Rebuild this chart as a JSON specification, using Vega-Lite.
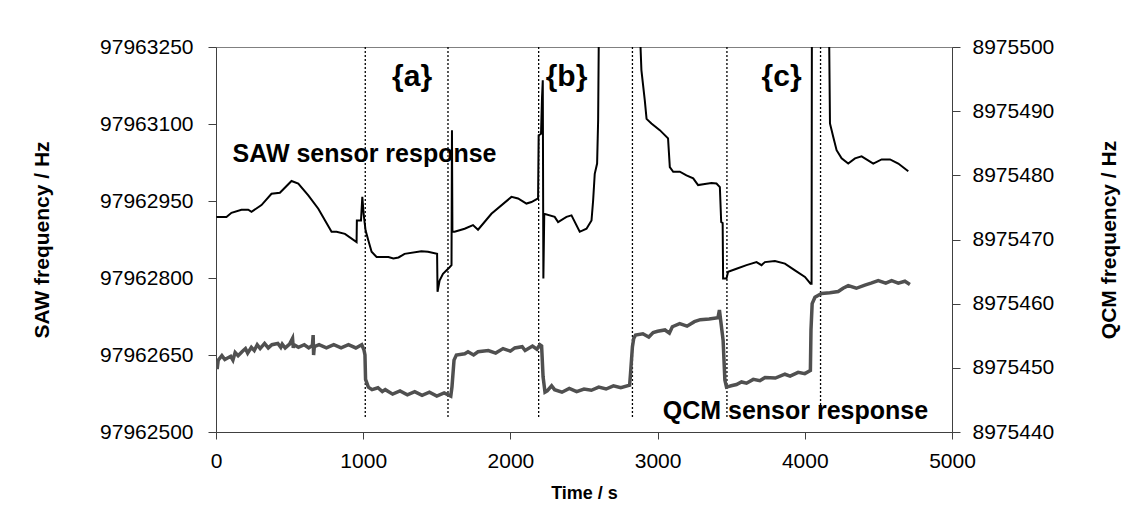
{
  "$schema": "https://vega.github.io/schema/vega-lite/v6.json",
  "autosize": {"type": "none"},
  "padding": {"left": 216, "top": 47, "right": 176, "bottom": 92},
  "width": 736,
  "height": 385,
  "background": "white",
  "config": {
    "view": {"stroke": "#808080", "strokeWidth": 1},
    "font": "Liberation Sans",
    "axis": {
      "grid": false,
      "domainColor": "#404040",
      "tickColor": "#404040",
      "labelColor": "black",
      "titleColor": "black",
      "labelFont": "Liberation Sans",
      "titleFont": "Liberation Sans",
      "labelFontSize": 21,
      "titleFontWeight": "bold",
      "labelOverlap": false,
      "labelBound": false,
      "labelFlush": false,
      "tickSize": 8
    }
  },
  "datasets": {
    "saw": [
      {"t": 3, "v": 97962919}, {"t": 71, "v": 97962919}, {"t": 105, "v": 97962927}, {"t": 173, "v": 97962933},
      {"t": 219, "v": 97962933}, {"t": 241, "v": 97962929}, {"t": 309, "v": 97962942}, {"t": 377, "v": 97962964},
      {"t": 434, "v": 97962966}, {"t": 513, "v": 97962989}, {"t": 559, "v": 97962984}, {"t": 627, "v": 97962961},
      {"t": 695, "v": 97962935}, {"t": 785, "v": 97962890}, {"t": 819, "v": 97962890}, {"t": 876, "v": 97962886},
      {"t": 955, "v": 97962870}, {"t": 957, "v": 97962912}, {"t": 985, "v": 97962912}, {"t": 994, "v": 97962958},
      {"t": 1003, "v": 97962925}, {"t": 1016, "v": 97962893}, {"t": 1035, "v": 97962873}, {"t": 1057, "v": 97962851},
      {"t": 1091, "v": 97962841}, {"t": 1171, "v": 97962841}, {"t": 1205, "v": 97962838}, {"t": 1240, "v": 97962840},
      {"t": 1281, "v": 97962847}, {"t": 1395, "v": 97962852}, {"t": 1440, "v": 97962851}, {"t": 1502, "v": 97962847},
      {"t": 1505, "v": 97962773}, {"t": 1519, "v": 97962795}, {"t": 1542, "v": 97962808}, {"t": 1587, "v": 97962821},
      {"t": 1600, "v": 97962825}, {"t": 1603, "v": 97963088}, {"t": 1606, "v": 97962890}, {"t": 1621, "v": 97962890},
      {"t": 1689, "v": 97962896}, {"t": 1746, "v": 97962903}, {"t": 1780, "v": 97962894}, {"t": 1871, "v": 97962925},
      {"t": 2007, "v": 97962958}, {"t": 2052, "v": 97962955}, {"t": 2109, "v": 97962945}, {"t": 2143, "v": 97962948},
      {"t": 2188, "v": 97962955}, {"t": 2192, "v": 97963078}, {"t": 2208, "v": 97963081}, {"t": 2215, "v": 97963153},
      {"t": 2220, "v": 97963185}, {"t": 2224, "v": 97962799}, {"t": 2230, "v": 97962925}, {"t": 2301, "v": 97962919},
      {"t": 2324, "v": 97962909}, {"t": 2381, "v": 97962919}, {"t": 2415, "v": 97962922}, {"t": 2471, "v": 97962890},
      {"t": 2517, "v": 97962896}, {"t": 2551, "v": 97962912}, {"t": 2562, "v": 97962951}, {"t": 2573, "v": 97963003},
      {"t": 2589, "v": 97963023}, {"t": 2596, "v": 97963107}, {"t": 2600, "v": 97963250}, {"t": 2603, "v": 97963400},
      {"t": 2880, "v": 97963400}, {"t": 2884, "v": 97963250}, {"t": 2890, "v": 97963205}, {"t": 2913, "v": 97963146},
      {"t": 2925, "v": 97963110}, {"t": 2958, "v": 97963101}, {"t": 3015, "v": 97963088}, {"t": 3071, "v": 97963072},
      {"t": 3083, "v": 97963016}, {"t": 3106, "v": 97963007}, {"t": 3151, "v": 97963007}, {"t": 3196, "v": 97963000},
      {"t": 3242, "v": 97962994}, {"t": 3275, "v": 97962981}, {"t": 3321, "v": 97962983}, {"t": 3366, "v": 97962985},
      {"t": 3400, "v": 97962984}, {"t": 3423, "v": 97962977}, {"t": 3432, "v": 97962909}, {"t": 3442, "v": 97962907},
      {"t": 3445, "v": 97962799}, {"t": 3468, "v": 97962799}, {"t": 3479, "v": 97962812}, {"t": 3536, "v": 97962818},
      {"t": 3604, "v": 97962825}, {"t": 3672, "v": 97962831}, {"t": 3706, "v": 97962825}, {"t": 3729, "v": 97962831},
      {"t": 3797, "v": 97962833}, {"t": 3865, "v": 97962828}, {"t": 3933, "v": 97962815}, {"t": 4001, "v": 97962802},
      {"t": 4039, "v": 97962789}, {"t": 4046, "v": 97962789}, {"t": 4048, "v": 97963250}, {"t": 4050, "v": 97963400},
      {"t": 4160, "v": 97963400}, {"t": 4166, "v": 97963250}, {"t": 4171, "v": 97963101}, {"t": 4193, "v": 97963075},
      {"t": 4216, "v": 97963049}, {"t": 4250, "v": 97963033}, {"t": 4295, "v": 97963023}, {"t": 4341, "v": 97963033},
      {"t": 4386, "v": 97963037}, {"t": 4465, "v": 97963023}, {"t": 4522, "v": 97963031}, {"t": 4579, "v": 97963031},
      {"t": 4635, "v": 97963023}, {"t": 4703, "v": 97963008}
    ],
    "qcm": [
      {"t": 0, "q": 8975451.0}, {"t": 8, "q": 8975449.8}, {"t": 15, "q": 8975451.2}, {"t": 40, "q": 8975451.9}, {"t": 60, "q": 8975451.3},
      {"t": 100, "q": 8975451.8}, {"t": 115, "q": 8975451.2}, {"t": 130, "q": 8975452.4}, {"t": 150, "q": 8975451.9}, {"t": 180, "q": 8975452.6}, {"t": 200, "q": 8975453.0},
      {"t": 215, "q": 8975452.3}, {"t": 240, "q": 8975453.2}, {"t": 260, "q": 8975452.7}, {"t": 280, "q": 8975453.6}, {"t": 300, "q": 8975453.0}, {"t": 330, "q": 8975453.8},
      {"t": 355, "q": 8975453.1}, {"t": 380, "q": 8975453.6}, {"t": 420, "q": 8975453.8}, {"t": 440, "q": 8975453.2}, {"t": 450, "q": 8975453.7}, {"t": 470, "q": 8975453.1},
      {"t": 500, "q": 8975453.7}, {"t": 520, "q": 8975454.6}, {"t": 525, "q": 8975453.1}, {"t": 530, "q": 8975453.6},
      {"t": 560, "q": 8975453.2}, {"t": 600, "q": 8975453.6}, {"t": 630, "q": 8975453.1}, {"t": 655, "q": 8975453.5}, {"t": 660, "q": 8975455.1},
      {"t": 663, "q": 8975452.0}, {"t": 668, "q": 8975453.3}, {"t": 700, "q": 8975453.6}, {"t": 750, "q": 8975453.1},
      {"t": 800, "q": 8975453.6}, {"t": 850, "q": 8975453.1}, {"t": 900, "q": 8975453.6}, {"t": 950, "q": 8975453.1},
      {"t": 990, "q": 8975453.6}, {"t": 1005, "q": 8975452.8}, {"t": 1012, "q": 8975452.0}, {"t": 1016, "q": 8975448.2},
      {"t": 1035, "q": 8975447.0}, {"t": 1060, "q": 8975446.6}, {"t": 1100, "q": 8975446.9}, {"t": 1130, "q": 8975446.3}, {"t": 1150, "q": 8975446.6},
      {"t": 1200, "q": 8975445.9}, {"t": 1250, "q": 8975446.4}, {"t": 1300, "q": 8975445.8}, {"t": 1350, "q": 8975446.3},
      {"t": 1400, "q": 8975445.7}, {"t": 1450, "q": 8975446.2}, {"t": 1500, "q": 8975445.6}, {"t": 1550, "q": 8975446.1},
      {"t": 1595, "q": 8975445.6}, {"t": 1603, "q": 8975447.0}, {"t": 1617, "q": 8975451.2}, {"t": 1633, "q": 8975452.0},
      {"t": 1690, "q": 8975452.2}, {"t": 1712, "q": 8975452.5}, {"t": 1750, "q": 8975452.0}, {"t": 1780, "q": 8975452.5}, {"t": 1850, "q": 8975452.7},
      {"t": 1900, "q": 8975452.3}, {"t": 1950, "q": 8975453.0}, {"t": 2000, "q": 8975452.6}, {"t": 2030, "q": 8975453.1}, {"t": 2080, "q": 8975453.3},
      {"t": 2100, "q": 8975452.7}, {"t": 2150, "q": 8975453.4}, {"t": 2180, "q": 8975452.9}, {"t": 2200, "q": 8975453.6}, {"t": 2212, "q": 8975453.4},
      {"t": 2222, "q": 8975448.6}, {"t": 2235, "q": 8975446.2}, {"t": 2250, "q": 8975446.4}, {"t": 2280, "q": 8975447.2},
      {"t": 2300, "q": 8975446.6}, {"t": 2350, "q": 8975446.2}, {"t": 2400, "q": 8975446.8}, {"t": 2450, "q": 8975446.3},
      {"t": 2500, "q": 8975446.7}, {"t": 2550, "q": 8975446.5}, {"t": 2600, "q": 8975447.0}, {"t": 2650, "q": 8975446.7},
      {"t": 2700, "q": 8975447.2}, {"t": 2750, "q": 8975446.9}, {"t": 2810, "q": 8975447.3}, {"t": 2816, "q": 8975449.1},
      {"t": 2829, "q": 8975453.3}, {"t": 2838, "q": 8975454.6}, {"t": 2850, "q": 8975455.1}, {"t": 2900, "q": 8975455.3},
      {"t": 2940, "q": 8975454.8}, {"t": 2970, "q": 8975455.5}, {"t": 3000, "q": 8975455.7}, {"t": 3050, "q": 8975455.9}, {"t": 3080, "q": 8975455.4}, {"t": 3100, "q": 8975456.4},
      {"t": 3150, "q": 8975456.9}, {"t": 3200, "q": 8975456.5}, {"t": 3250, "q": 8975457.2}, {"t": 3290, "q": 8975457.5},
      {"t": 3350, "q": 8975457.6}, {"t": 3410, "q": 8975457.8}, {"t": 3420, "q": 8975459.0}, {"t": 3428, "q": 8975457.5},
      {"t": 3445, "q": 8975454.3}, {"t": 3457, "q": 8975448.1}, {"t": 3468, "q": 8975447.0}, {"t": 3500, "q": 8975447.2},
      {"t": 3536, "q": 8975447.4}, {"t": 3570, "q": 8975447.8}, {"t": 3604, "q": 8975447.6}, {"t": 3650, "q": 8975448.2},
      {"t": 3695, "q": 8975448.0}, {"t": 3730, "q": 8975448.5}, {"t": 3800, "q": 8975448.4}, {"t": 3865, "q": 8975449.0},
      {"t": 3900, "q": 8975448.7}, {"t": 3955, "q": 8975449.3}, {"t": 4000, "q": 8975449.1}, {"t": 4038, "q": 8975449.6},
      {"t": 4042, "q": 8975455.9}, {"t": 4050, "q": 8975460.0}, {"t": 4069, "q": 8975461.0}, {"t": 4114, "q": 8975461.6},
      {"t": 4170, "q": 8975461.7}, {"t": 4227, "q": 8975461.9}, {"t": 4260, "q": 8975462.4}, {"t": 4295, "q": 8975462.8},
      {"t": 4350, "q": 8975462.4}, {"t": 4408, "q": 8975462.9}, {"t": 4450, "q": 8975463.2}, {"t": 4499, "q": 8975463.6},
      {"t": 4550, "q": 8975463.2}, {"t": 4590, "q": 8975463.6}, {"t": 4635, "q": 8975463.2}, {"t": 4680, "q": 8975463.5},
      {"t": 4714, "q": 8975463.0}
    ],
    "marks": [
      {"t": 1014, "v": 97962529, "v2": 97963250}, {"t": 1576, "v": 97962529, "v2": 97963250},
      {"t": 2192, "v": 97962529, "v2": 97963250}, {"t": 2829, "v": 97962529, "v2": 97963250},
      {"t": 3471, "v": 97962529, "v2": 97963250}, {"t": 4107, "v": 97962529, "v2": 97963250}
    ],
    "braces": [
      {"t": 1332, "v": 97963192, "label": "{a}"},
      {"t": 2381, "v": 97963192, "label": "{b}"},
      {"t": 3842, "v": 97963192, "label": "{c}"}
    ],
    "series": [
      {"t": 1009, "v": 97963042, "label": "SAW sensor response"},
      {"t": 3936, "v": 97962541, "label": "QCM sensor response"}
    ]
  },
  "layer": [
    {
      "layer": [
        {
          "data": {"name": "marks"},
          "mark": {"type": "rule", "color": "black", "strokeWidth": 1.3, "strokeDash": [2, 2]},
          "encoding": {
            "x": {"field": "t", "type": "quantitative", "scale": {"domain": [0, 5000], "nice": false}},
            "y": {"field": "v", "type": "quantitative", "scale": {"domain": [97962500, 97963250], "nice": false, "zero": false}},
            "y2": {"field": "v2"}
          }
        },
        {
          "data": {"name": "saw"},
          "mark": {"type": "line", "color": "black", "strokeWidth": 2, "clip": true},
          "encoding": {
            "x": {
              "field": "t", "type": "quantitative",
              "axis": {"title": "Time / s", "values": [0, 1000, 2000, 3000, 4000, 5000], "format": "d", "tickSize": 7, "labelPadding": 11, "titleFontSize": 18, "titlePadding": 13}
            },
            "y": {
              "field": "v", "type": "quantitative",
              "axis": {"title": "SAW frequency / Hz", "orient": "left", "values": [97962500, 97962650, 97962800, 97962950, 97963100, 97963250], "format": "d", "labelPadding": 15, "titleFontSize": 21, "titlePadding": 47}
            },
            "order": {"value": null}
          }
        },
        {
          "data": {"name": "braces"},
          "mark": {"type": "text", "font": "Liberation Sans", "fontWeight": "bold", "fontSize": 30, "align": "center", "baseline": "middle", "color": "black"},
          "encoding": {
            "x": {"field": "t", "type": "quantitative"},
            "y": {"field": "v", "type": "quantitative"},
            "text": {"field": "label"}
          }
        },
        {
          "data": {"name": "series"},
          "mark": {"type": "text", "font": "Liberation Sans", "fontWeight": "bold", "fontSize": 25, "align": "center", "baseline": "middle", "color": "black"},
          "encoding": {
            "x": {"field": "t", "type": "quantitative"},
            "y": {"field": "v", "type": "quantitative"},
            "text": {"field": "label"}
          }
        }
      ]
    },
    {
      "data": {"name": "qcm"},
      "mark": {"type": "line", "color": "#505050", "strokeWidth": 3.5, "clip": true},
      "encoding": {
        "x": {"field": "t", "type": "quantitative"},
        "y": {
          "field": "q", "type": "quantitative",
          "scale": {"domain": [8975440, 8975500], "nice": false, "zero": false},
          "axis": {"title": "QCM frequency / Hz", "orient": "right", "titleAngle": 270, "values": [8975440, 8975450, 8975460, 8975470, 8975480, 8975490, 8975500], "format": "d", "labelPadding": 12, "titleFontSize": 21, "titlePadding": 66}
        },
        "order": {"value": null}
      }
    }
  ],
  "resolve": {"scale": {"y": "independent"}}
}
